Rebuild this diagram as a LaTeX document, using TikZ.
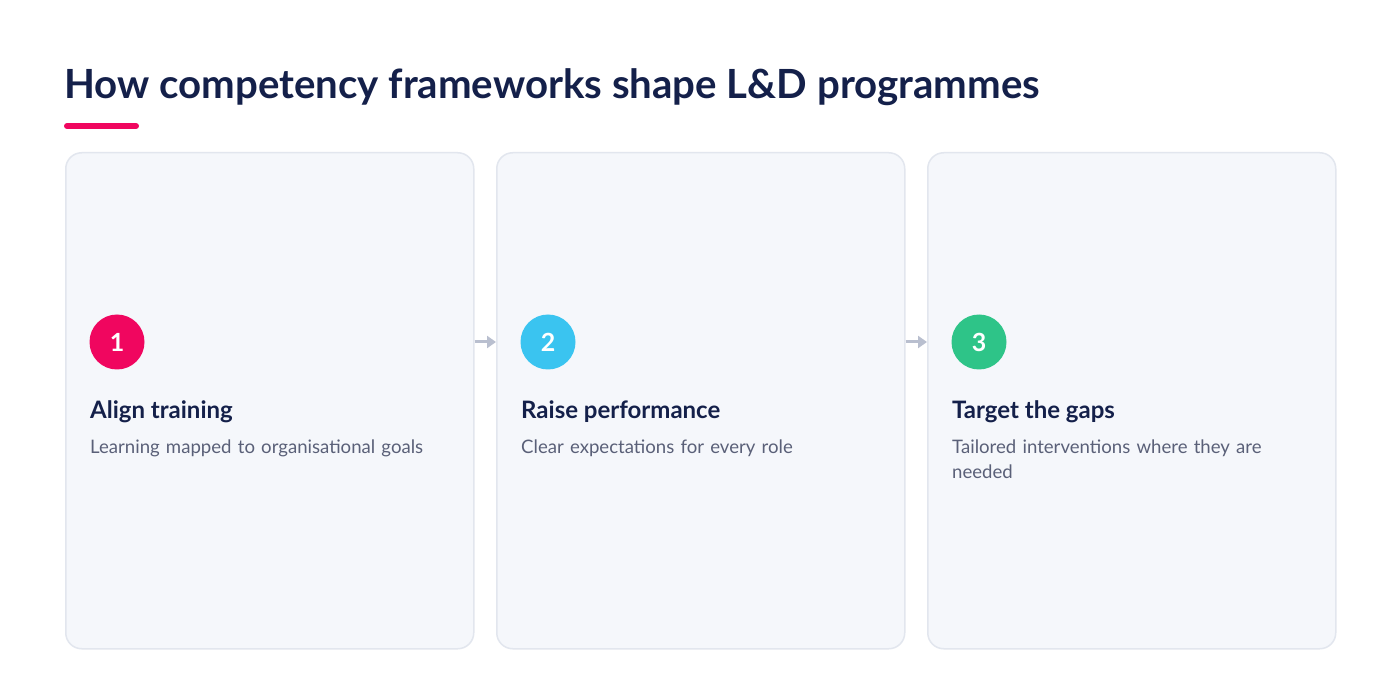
\documentclass[tikz,border=0pt]{standalone}
\usepackage{fontspec}
\setmainfont{Lato}
\usetikzlibrary{positioning,arrows.meta}
\definecolor{navy}{HTML}{14204A}
\definecolor{bodygrey}{HTML}{5A6078}
\definecolor{cardfill}{HTML}{F5F7FB}
\definecolor{cardline}{HTML}{E2E6EE}
\definecolor{pink}{HTML}{F0065F}
\definecolor{sky}{HTML}{3AC4F0}
\definecolor{mint}{HTML}{2EC488}
\definecolor{arrowgrey}{HTML}{B9BFCF}
\tikzset{
  card/.style={draw=cardline, line width=1.5pt, fill=cardfill, rounded corners=16pt,
    minimum width=408pt, minimum height=496pt, anchor=north west},
  badge/.style={circle, fill=#1, minimum size=55pt, inner sep=0pt, text=white,
    font=\fontsize{25}{25}\selectfont\bfseries},
  heading/.style={anchor=base west, inner sep=0pt, text=navy, font=\fontsize{24}{28}\selectfont\bfseries},
  blurb/.style={anchor=north west, inner sep=0pt, text=bodygrey, align=left, text width=350pt,
    font=\fontsize{18.6}{25}\selectfont},
  link/.style={arrowgrey, line width=3pt, -{Triangle[length=9pt,width=12pt]}}
}
\begin{document}
\begin{tikzpicture}[x=1pt, y=-1pt]
  \useasboundingbox[fill=white] (0,0) rectangle (1400,700);

  % title
  \node[anchor=base west, inner sep=0pt, text=navy, font=\fontsize{40.2}{40}\selectfont\bfseries]
    (title) at (64,99) {How competency frameworks shape L\&D programmes};
  \draw[pink, line width=6pt, line cap=round] (67,126) -- (136,126);

  % cards
  \node[card] (card1) at (65,152) {};
  \node[card] (card2) at (496,152) {};
  \node[card] (card3) at (927,152) {};

  \node[badge=pink] (n1) at (117,342) {1};
  \node[badge=sky] (n2) at (548,342) {2};
  \node[badge=mint] (n3) at (979,342) {3};

  \node[heading] (h1) at (90,418) {Align training};
  \node[heading] (h2) at (521,418) {Raise performance};
  \node[heading] (h3) at (952,418) {Target the gaps};

  \node[blurb, below=22pt of h1.base west, anchor=north west] (b1) {Learning mapped to organisational goals};
  \node[blurb, below=22pt of h2.base west, anchor=north west] (b2) {Clear expectations for every role};
  \node[blurb, below=22pt of h3.base west, anchor=north west] (b3) {Tailored interventions where they are needed};

  % arrows between cards
  \draw[link] (card1.east |- n1) -- (card2.west |- n2);
  \draw[link] (card2.east |- n2) -- (card3.west |- n3);
\end{tikzpicture}
\end{document}
